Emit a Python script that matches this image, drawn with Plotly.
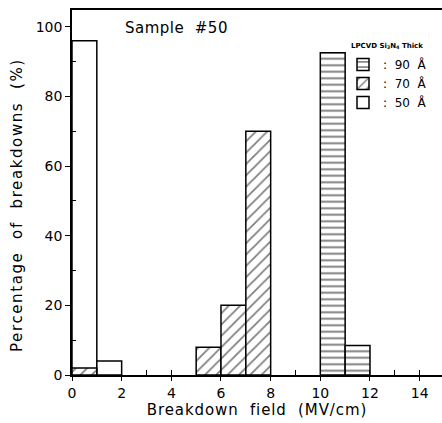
import plotly.graph_objects as go

# Bin left edges (MV/cm), width 1
bins_50 = [0, 1]
pct_50 = [96, 4]
bins_70 = [0, 5, 6, 7]
pct_70 = [2, 8, 20, 70]
bins_90 = [10, 11]
pct_90 = [92.5, 8.5]
bin_width = 1

x_ticks = [0, 2, 4, 6, 8, 10, 12, 14]
y_ticks = [0, 20, 40, 60, 80, 100]
y_minor = [10, 30, 50, 70, 90]

FONT = "DejaVu Sans"
fig = go.Figure()

def centers(edges):
    return [e + bin_width / 2 for e in edges]

fig.add_trace(go.Bar(
    x=centers(bins_50), y=pct_50, width=bin_width, name=":  50  Å",
    marker=dict(color="white", line=dict(color="black", width=1.5)),
))
fig.add_trace(go.Bar(
    x=centers(bins_70), y=pct_70, width=bin_width, name=":  70  Å",
    marker=dict(color="white", line=dict(color="black", width=1.5),
                pattern=dict(shape="/", fgcolor="black", bgcolor="white", size=8, solidity=0.22)),
))
fig.add_trace(go.Bar(
    x=centers(bins_90), y=pct_90, width=bin_width, name=":  90  Å",
    marker=dict(color="white", line=dict(color="black", width=1.5),
                pattern=dict(shape="-", fgcolor="black", bgcolor="white", size=6.5, solidity=0.3)),
))
fig.add_trace(go.Scatter(x=[], y=[], xaxis="x2", showlegend=False, hoverinfo="skip"))

def spaced(t, ls):
    return f'<span style="letter-spacing:{ls}px">{t}</span>'

pw, ph = 442 - 72, 423 - 10 - 48

def px_x(p):
    return (p - 72) / pw

def px_y(p):
    return 1 - (p - 10) / ph

fig.update_layout(
    width=442, height=423,
    margin=dict(l=72, r=0, t=10, b=48),
    paper_bgcolor="white", plot_bgcolor="white",
    barmode="overlay",
    font=dict(family=FONT, color="black", size=14),
    xaxis=dict(range=[0, 14.9], tickvals=x_ticks, ticks="outside", ticklen=4, tickwidth=1.3,
               tickcolor="black", showline=True, linecolor="black", linewidth=1.5, mirror=True,
               showgrid=False, zeroline=False, tickfont=dict(size=14),
               title=dict(text=spaced("Breakdown  field  (MV/cm)", 0.9), font=dict(size=15), standoff=2)),
    xaxis2=dict(overlaying="x", matches="x", anchor="y", dtick=1, tick0=0, ticks="inside",
                ticklen=5, tickwidth=1.3, tickcolor="black", showticklabels=False,
                showgrid=False, zeroline=False, showline=False),
    yaxis=dict(range=[0, 104.8], tickvals=y_ticks, ticks="outside", ticklen=5, tickwidth=1.3,
               tickcolor="black", showline=True, linecolor="black", linewidth=1.5,
               showgrid=False, zeroline=False, tickfont=dict(size=14),
               minor=dict(tickvals=y_minor, ticks="inside", ticklen=4,
                          tickwidth=1.3, tickcolor="black")),
    legend=dict(x=px_x(343), y=px_y(50), yanchor="top",
                traceorder="reversed", font=dict(size=12), bgcolor="rgba(0,0,0,0)",
                tracegroupgap=0, itemwidth=30),
    annotations=[
        dict(text=spaced("Percentage  of  breakdowns  (%)", 1.6), textangle=-90,
             x=px_x(17), y=px_y(205), xref="paper", yref="paper", showarrow=False,
             font=dict(size=15), xanchor="center", yanchor="middle"),
        dict(text=spaced("Sample  #50", 0.5), x=px_x(123), y=px_y(28), xref="paper", yref="paper",
             showarrow=False, font=dict(size=15), xanchor="left", yanchor="middle"),
        dict(text="<b>LPCVD Si<sub>3</sub>N<sub>4</sub> Thick</b>", x=px_x(349),
             y=px_y(46), xref="paper", yref="paper", showarrow=False,
             font=dict(size=7), xanchor="left", yanchor="middle"),
    ],
)

fig.write_html("out.html")
